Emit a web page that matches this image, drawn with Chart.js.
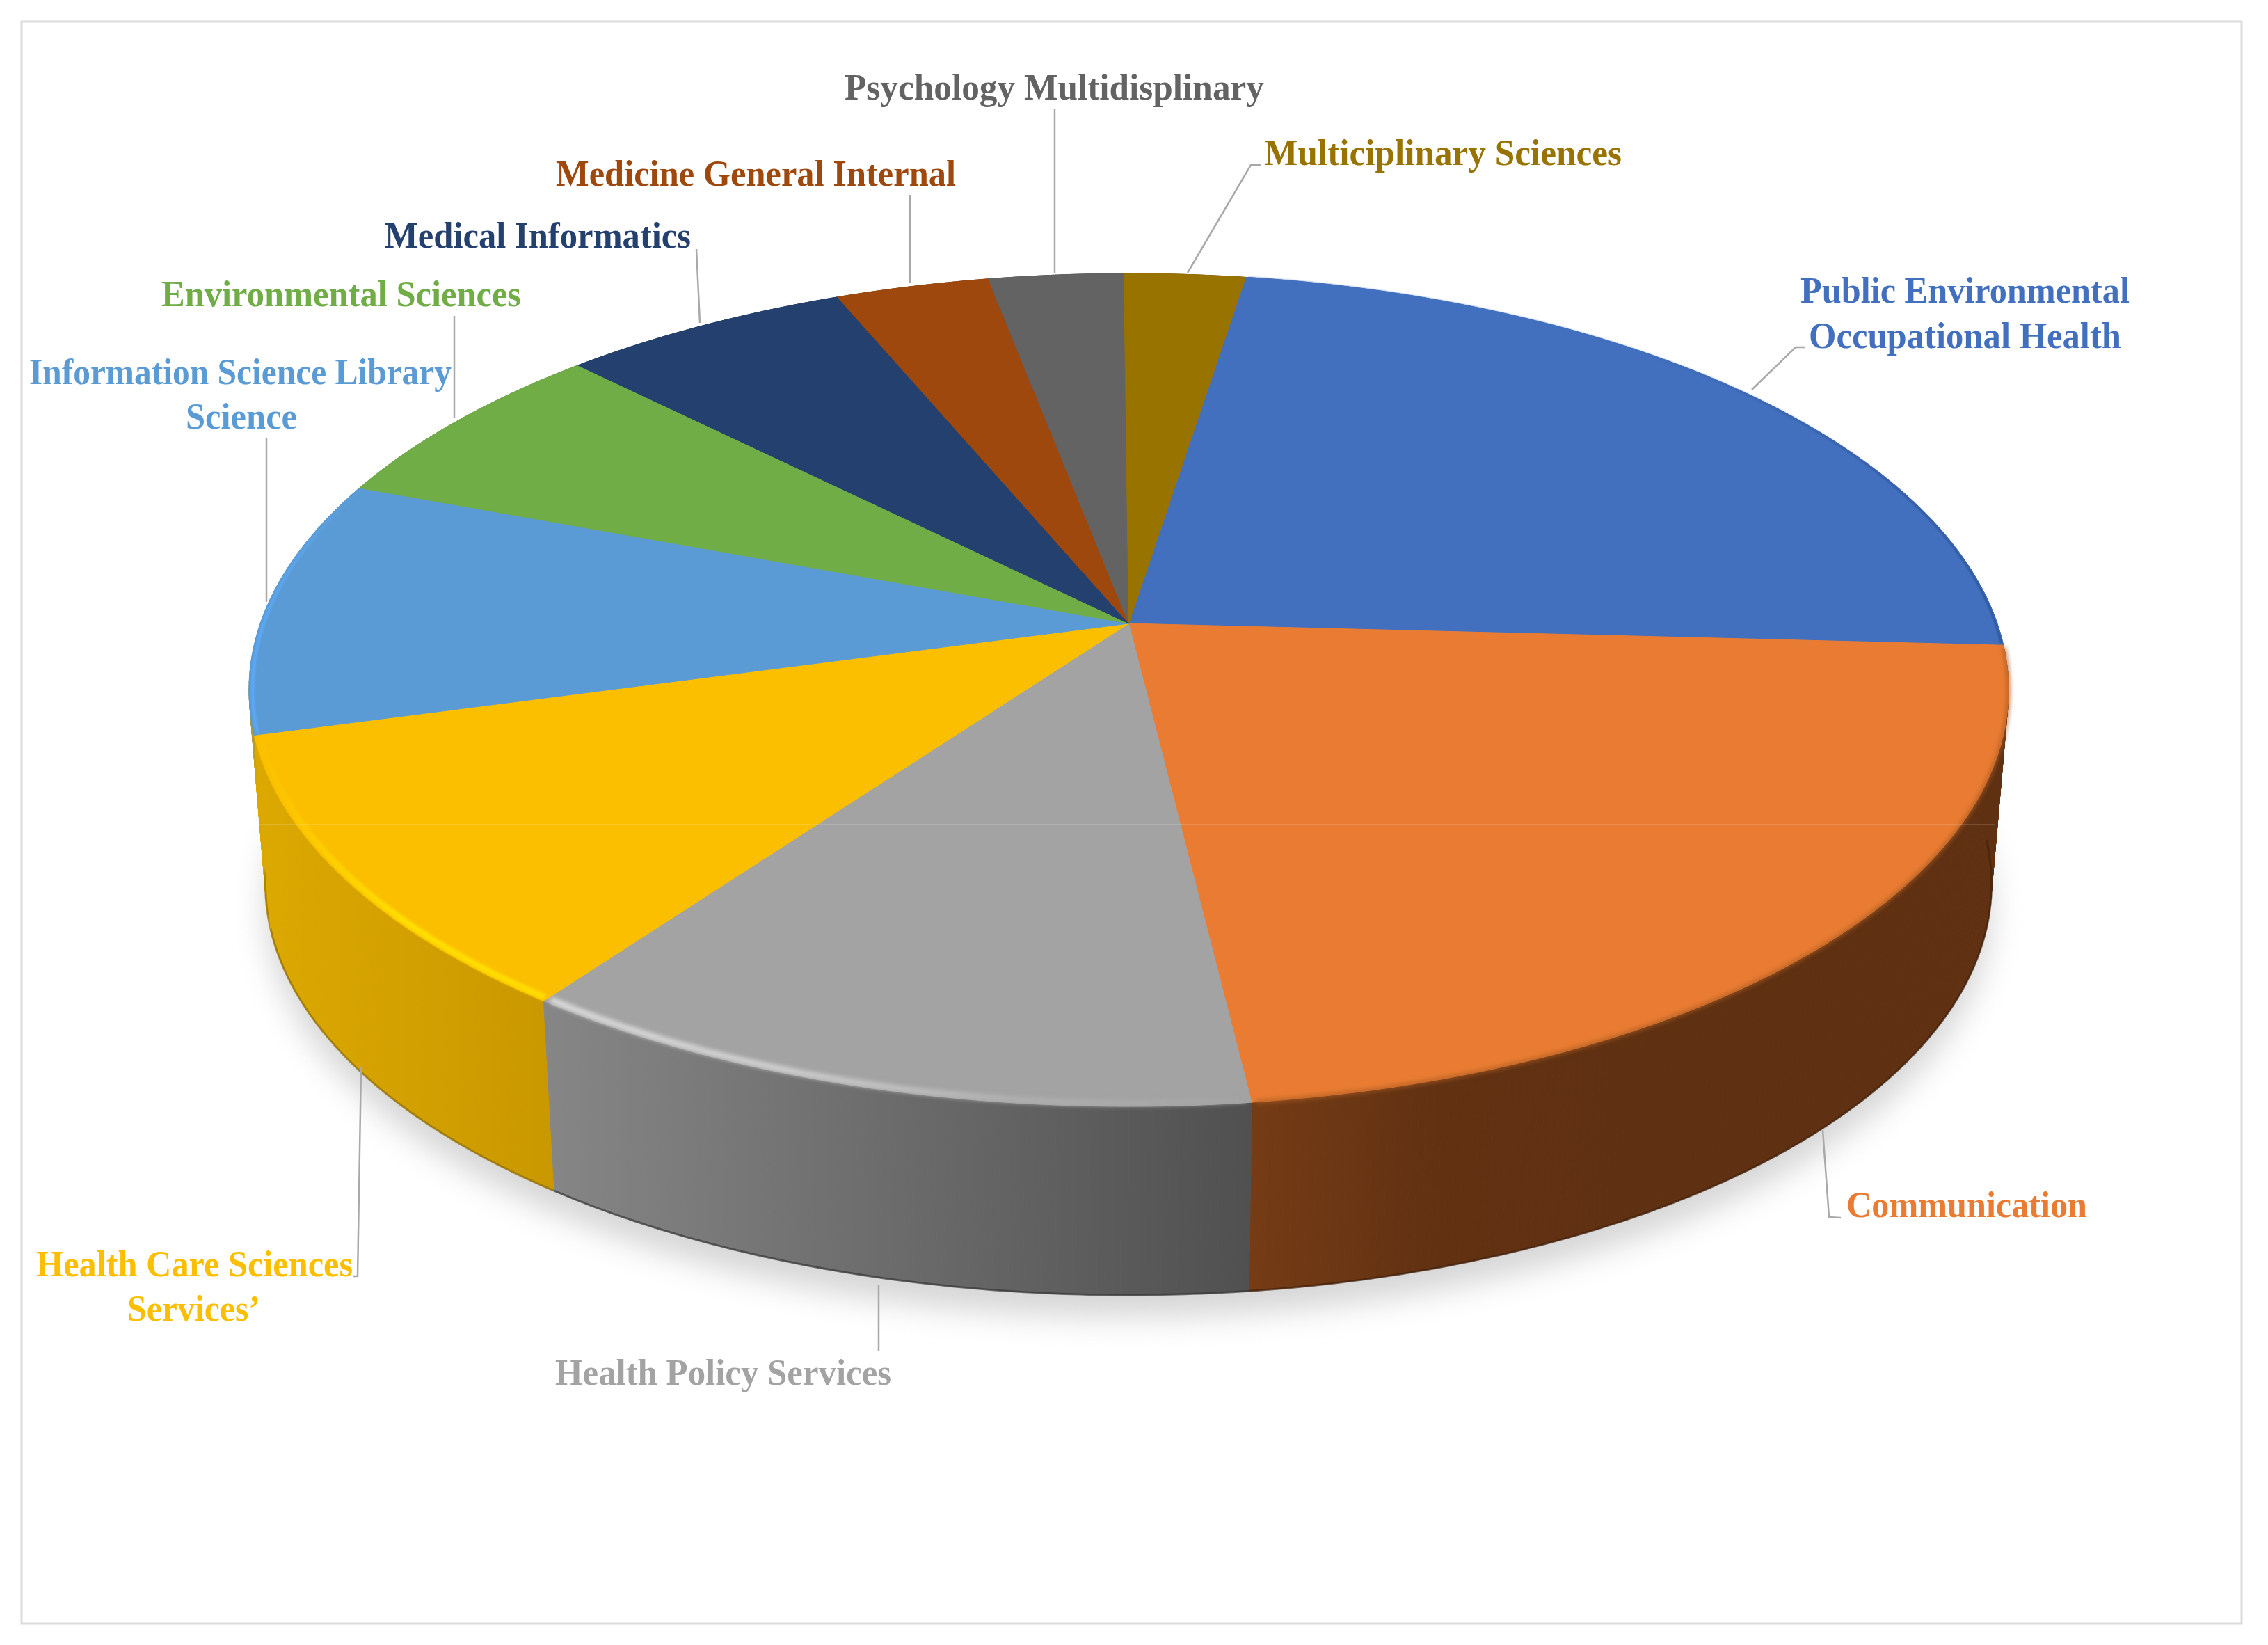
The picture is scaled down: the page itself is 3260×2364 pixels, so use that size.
<!DOCTYPE html>
<html>
<head>
<meta charset="utf-8">
<title>Categories</title>
<script src="https://cdn.jsdelivr.net/npm/chart.js@4/dist/chart.umd.js"></script>
<style>
  html, body { margin: 0; padding: 0; background: #fff; }
  canvas { display: block; }
</style>
</head>
<body>
<canvas id="pieChart" width="3260" height="2364"></canvas>
<script>
// Values (share of the pie, %)
const categories = [
  'Public Environmental Occupational Health',
  'Communication',
  'Health Policy Services',
  'Health Care Sciences Services’',
  'Information Science Library Science',
  'Environmental Sciences',
  'Medical Informatics',
  'Medicine General Internal',
  'Psychology Multidisplinary',
  'Multiciplinary Sciences'
];
const shares = [23.4, 22.3, 11.9, 10.8, 10.0, 6.8, 6.2, 3.3, 2.9, 2.6];
const colors = ['#4270bf', '#e97c32', '#a3a3a3', '#fbbf00', '#5b9bd5', '#70ad47', '#23406f', '#9e480e', '#636363', '#997300'];
const firstSliceAngle = 8.97;

// Side wall: gradient stops left to right
const wallColors = [
  ['#2f5597', '#2f5597'],
  ['#753c15', '#613112', '#5f3011', '#5f3011', '#5f3011'],
  ['#868686', '#505050'],
  ['#dca900', '#c99800'],
  ['#4a80b5', '#4a80b5', '#d8a800', '#d8a800'],
  ['#4c7a30', '#4c7a30'],
  ['#182c4e', '#182c4e'],
  ['#6c3109', '#6c3109'],
  ['#444444', '#444444'],
  ['#6a5000', '#6a5000']
];
// The information wall is only a sliver on the far left, it runs top to bottom
const verticalWalls = [4];
// Highlight along the top rim: colour stops left to right, width, radius, blur
const rimStyles = [
  { stops: ['#4270bf', '#4270bf', '#2f5597'], width: 3, radius: 0.998, blur: 1 },
  { stops: ['#a85a22', '#a85a22'], width: 4, radius: 1, blur: 3 },
  { stops: ['#dcdcdc', '#d0d0d0', '#b0b0b0', '#a3a3a3'], width: 9, radius: 0.994, blur: 3 },
  { stops: ['#fbc000', '#ffe000', '#ffdc00'], width: 9, radius: 0.994, blur: 2 },
  { stops: ['#5ba8f5', '#5b9bd5'], width: 5, radius: 0.996, blur: 1 },
  null, null, null, null, null
];

// Label text, with the box each line was measured in: [text, left, right, baseline]
const labelLines = [
  [['Public Environmental', 2588, 3061, 435], ['Occupational Health', 2600, 3049, 500]],
  [['Communication', 2654, 3000, 1749]],
  [['Health Policy Services', 798, 1281, 1990]],
  [['Health Care Sciences', 52, 507, 1834], ['Services’', 183, 374, 1898]],
  [['Information Science Library', 42, 649, 552], ['Science', 267, 427, 616]],
  [['Environmental Sciences', 232, 749, 440]],
  [['Medical Informatics', 553, 993, 356]],
  [['Medicine General Internal', 799, 1374, 267]],
  [['Psychology Multidisplinary', 1214, 1817, 143]],
  [['Multiciplinary Sciences', 1817, 2331, 237]]
];
const leaderLines = [
  [[2518, 560], [2581, 499], [2595, 499]],
  [[2620, 1624], [2629, 1749], [2646, 1750]],
  [[1263, 1847], [1263, 1941]],
  [[519, 1533], [514, 1834], [507, 1834]],
  [[383, 629], [383, 865]],
  [[653, 454], [653, 601]],
  [[1001, 358], [1006, 464]],
  [[1308, 280], [1308, 407]],
  [[1516, 157], [1516, 393]],
  [[1707, 392], [1798, 237], [1812, 237]]
];

// Perspective of the pie disc
const view = {
  cx: 1622.5, cy: 896, rx: 1248.3, ry: 583.2, k: 0.1597,
  bottomCx: 1622, bottomCy: 1176, bottomSx: 0.981, bottomSy: 0.987
};

function topPoint(angle, r = 1) {
  const u = r * Math.cos(angle);
  const v = r * Math.sin(angle);
  const w = 1 - view.k * v;
  return [view.cx + view.rx * u / w, view.cy + view.ry * v / w];
}

function bottomPoint(angle) {
  const p = topPoint(angle);
  return [view.bottomCx + view.bottomSx * (p[0] - view.cx), view.bottomCy + view.bottomSy * (p[1] - view.cy)];
}

function sampleArc(start, end, fn) {
  const pts = [];
  const steps = Math.max(2, Math.ceil((end - start) / 0.008));
  for (let i = 0; i <= steps; i++) pts.push(fn(start + (end - start) * i / steps));
  return pts;
}

function tracePath(ctx, pts) {
  ctx.beginPath();
  pts.forEach((p, i) => (i ? ctx.lineTo(p[0], p[1]) : ctx.moveTo(p[0], p[1])));
}

function gradientFor(ctx, pts, stops, vertical) {
  const vals = pts.map(p => p[vertical ? 1 : 0]);
  const lo = Math.min(...vals);
  const hi = Math.max(...vals);
  const g = vertical ? ctx.createLinearGradient(0, lo, 0, hi) : ctx.createLinearGradient(lo, 0, hi, 0);
  stops.forEach((c, i) => g.addColorStop(i / (stops.length - 1), c));
  return g;
}

const perspectivePie = {
  id: 'perspectivePie',
  beforeDraw(chart) {
    const { ctx, width, height } = chart;
    ctx.save();
    ctx.fillStyle = '#fff';
    ctx.fillRect(0, 0, width, height);
    ctx.strokeStyle = '#dcdcdc';
    ctx.lineWidth = 3;
    ctx.strokeRect(31, 31, 3191, 2302);
    ctx.restore();
  },
  beforeDatasetDraw(chart, args) {
    const ctx = chart.ctx;
    const arcs = args.meta.data;
    ctx.save();

    // soft shadow under the disc
    ctx.save();
    ctx.filter = 'blur(22px)';
    ctx.fillStyle = '#d6d6d6';
    ctx.translate(0, 32);
    tracePath(ctx, sampleArc(0, Math.PI * 2, bottomPoint));
    ctx.fill();
    ctx.restore();

    // side walls, back to front, swept step by step so the outline stays smooth
    const order = arcs.map((a, i) => i).sort((i, j) =>
      Math.sin((arcs[i].startAngle + arcs[i].endAngle) / 2) - Math.sin((arcs[j].startAngle + arcs[j].endAngle) / 2));
    order.forEach(i => {
      const a = arcs[i];
      const top = sampleArc(a.startAngle, a.endAngle, topPoint);
      const bottom = sampleArc(a.startAngle, a.endAngle, bottomPoint);
      const paint = gradientFor(ctx, top.concat(bottom), wallColors[i], verticalWalls.includes(i));
      ctx.fillStyle = paint;
      ctx.strokeStyle = paint;
      ctx.lineWidth = 1;
      for (let s = 0; s < top.length - 1; s++) {
        tracePath(ctx, [top[s], top[s + 1], bottom[s + 1], bottom[s]]);
        ctx.closePath();
        ctx.fill();
        ctx.stroke();
      }
      tracePath(ctx, bottom);
      ctx.strokeStyle = wallColors[i][wallColors[i].length - 1];
      ctx.globalAlpha = 0.7;
      ctx.lineWidth = 3;
      ctx.filter = 'brightness(0.7)';
      ctx.stroke();
      ctx.filter = 'none';
      ctx.globalAlpha = 1;
    });

    // top face of each slice, angles come from the chart's arc elements
    arcs.forEach((a, i) => {
      const rim = sampleArc(a.startAngle, a.endAngle, topPoint);
      tracePath(ctx, [[view.cx, view.cy]].concat(rim));
      ctx.closePath();
      ctx.fillStyle = colors[i];
      ctx.fill();
      ctx.strokeStyle = colors[i];
      ctx.lineWidth = 1;
      ctx.stroke();
    });

    // rim highlights
    arcs.forEach((a, i) => {
      const style = rimStyles[i];
      if (!style) return;
      const inset = sampleArc(a.startAngle + 0.004, a.endAngle - 0.004, t => topPoint(t, style.radius));
      ctx.save();
      ctx.filter = `blur(${style.blur}px)`;
      tracePath(ctx, inset);
      ctx.strokeStyle = gradientFor(ctx, inset, style.stops, false);
      ctx.lineWidth = style.width;
      ctx.stroke();
      ctx.restore();
    });

    // faint seam across the picture
    ctx.strokeStyle = 'rgba(255,255,255,0.15)';
    ctx.lineWidth = 1;
    ctx.beginPath();
    ctx.moveTo(372, 1184.5);
    ctx.lineTo(2868, 1184.5);
    ctx.stroke();

    ctx.restore();
    return false;
  },
  afterDraw(chart) {
    const ctx = chart.ctx;
    ctx.save();

    ctx.strokeStyle = '#a9a9a9';
    ctx.lineWidth = 2.5;
    leaderLines.forEach(line => {
      tracePath(ctx, line);
      ctx.stroke();
    });

    ctx.font = "bold 52px 'Liberation Serif'";
    ctx.textBaseline = 'alphabetic';
    labelLines.forEach((lines, i) => {
      ctx.fillStyle = colors[i];
      lines.forEach(([text, left, right, baseline]) => {
        ctx.save();
        ctx.translate(left, baseline);
        ctx.scale((right - left) / ctx.measureText(text).width, 1);
        ctx.fillText(text, 0, 0);
        ctx.restore();
      });
    });

    ctx.restore();
  }
};

new Chart(document.getElementById('pieChart'), {
  type: 'pie',
  data: {
    labels: categories,
    datasets: [{
      label: 'Categories',
      data: shares,
      backgroundColor: colors,
      rotation: firstSliceAngle
    }]
  },
  options: {
    responsive: false,
    animation: false,
    devicePixelRatio: 1,
    plugins: {
      legend: { display: false },
      tooltip: { enabled: false }
    }
  },
  plugins: [perspectivePie]
});
</script>
</body>
</html>
